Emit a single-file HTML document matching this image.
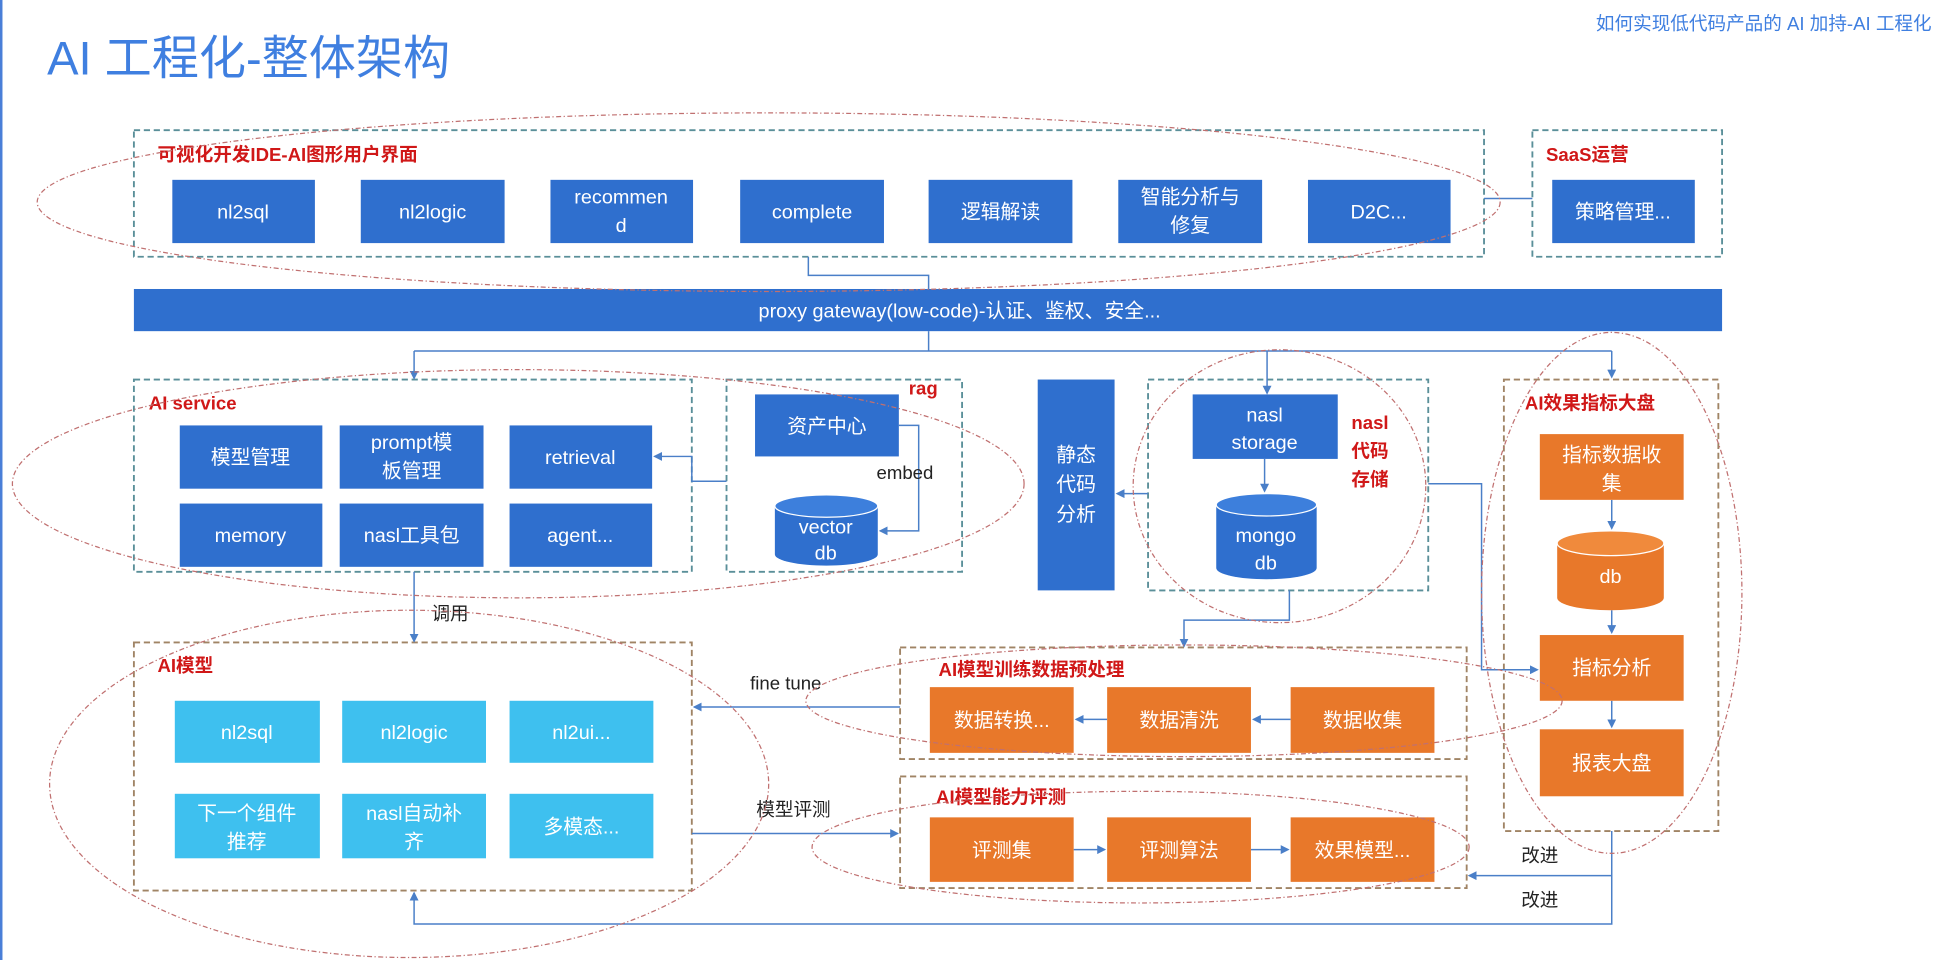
<!DOCTYPE html>
<html><head><meta charset="utf-8"><style>
html,body{margin:0;padding:0;background:#fff;}
svg{display:block;}
text{font-family:"Liberation Sans","Noto Sans CJK SC",sans-serif;}
</style></head><body>
<svg width="1944" height="960" viewBox="0 0 1568 774" preserveAspectRatio="none" xmlns="http://www.w3.org/2000/svg">
<defs>
<marker id="a" markerWidth="6" markerHeight="6" refX="5" refY="3" orient="auto"><path d="M0,0 L6,3 L0,6z" fill="#4a7fc8"/></marker>
</defs>
<rect width="1568" height="774" fill="#fff"/>
<line x1="1" y1="0" x2="1" y2="774" stroke="#4a7fd8" stroke-width="2"/>
<text x="38" y="60" font-size="38" fill="#3f7fe0">AI 工程化-整体架构</text>
<text x="1558" y="24" font-size="15" fill="#3f7fe0" text-anchor="end">如何实现低代码产品的 AI 加持-AI 工程化</text>

<g fill="none" stroke-width="1.5" stroke-dasharray="5,3">
<rect x="108" y="105" width="1089" height="102" stroke="#5a8f99"/>
<rect x="1236" y="105" width="153" height="102" stroke="#5a8f99"/>
<rect x="108" y="306" width="450" height="155" stroke="#5a8f99"/>
<rect x="586" y="306" width="190" height="155" stroke="#5a8f99"/>
<rect x="926" y="306" width="226" height="170" stroke="#5a8f99"/>
<rect x="1213" y="306" width="173" height="364" stroke="#a08465"/>
<rect x="108" y="518" width="450" height="200" stroke="#a08465"/>
<rect x="726" y="522" width="457" height="90" stroke="#a08465"/>
<rect x="726" y="626" width="457" height="90" stroke="#a08465"/>
</g>

<g fill="none" stroke="#4a7fc8" stroke-width="1.2">
<path d="M652,207 V222 H749 V233"/>
<path d="M749,267 V283"/>
<path d="M334,283 H1300"/>
<path d="M334,283 V305" marker-end="url(#a)"/>
<path d="M1022,283 V317" marker-end="url(#a)"/>
<path d="M1300,283 V304" marker-end="url(#a)"/>
<path d="M1197,160 H1236"/>
<path d="M725,343 H741 V428 H710" marker-end="url(#a)"/>
<path d="M586,388 H558 V368 H528" marker-end="url(#a)"/>
<path d="M926,398 H901" marker-end="url(#a)"/>
<path d="M1020,370 V396" marker-end="url(#a)"/>
<path d="M334,461 V517" marker-end="url(#a)"/>
<path d="M1040,476 V500 H955 V521" marker-end="url(#a)"/>
<path d="M1152,390 H1195 V540 H1240" marker-end="url(#a)"/>
<path d="M1300,403 V426" marker-end="url(#a)"/>
<path d="M1300,492 V510" marker-end="url(#a)"/>
<path d="M1300,565 V586" marker-end="url(#a)"/>
<path d="M726,570 H560" marker-end="url(#a)"/>
<path d="M558,672 H724" marker-end="url(#a)"/>
<path d="M1041,580 H1011" marker-end="url(#a)"/>
<path d="M893,580 H868" marker-end="url(#a)"/>
<path d="M866,685 H891" marker-end="url(#a)"/>
<path d="M1009,685 H1039" marker-end="url(#a)"/>
<path d="M1300,670 V745 H334 V720" marker-end="url(#a)"/>
<path d="M1300,706 H1185" marker-end="url(#a)"/>
</g>

<g fill="#2f6fce">
<rect x="108" y="233" width="1281" height="34"/>
<rect x="139" y="145" width="115" height="51"/>
<rect x="291" y="145" width="116" height="51"/>
<rect x="444" y="145" width="115" height="51"/>
<rect x="597" y="145" width="116" height="51"/>
<rect x="749" y="145" width="116" height="51"/>
<rect x="902" y="145" width="116" height="51"/>
<rect x="1055" y="145" width="115" height="51"/>
<rect x="1252" y="145" width="115" height="51"/>
<rect x="145" y="343" width="115" height="51"/>
<rect x="274" y="343" width="116" height="51"/>
<rect x="411" y="343" width="115" height="51"/>
<rect x="145" y="406" width="115" height="51"/>
<rect x="274" y="406" width="116" height="51"/>
<rect x="411" y="406" width="115" height="51"/>
<rect x="609" y="318" width="116" height="50"/>
<rect x="837" y="306" width="62" height="170"/>
<rect x="962" y="318" width="117" height="52"/>
<path d="M625,408 V447 A41.5,9 0 0 0 708,447 V408 A41.5,9 0 0 0 625,408z"/>
<path d="M981,407 V458 A40.5,9 0 0 0 1062,458 V407 A40.5,9 0 0 0 981,407z"/>
</g>
<ellipse cx="666.5" cy="408" rx="41.5" ry="9" fill="#3d7fdc" stroke="#fff"/>
<ellipse cx="1021.5" cy="407" rx="40.5" ry="9" fill="#3d7fdc" stroke="#fff"/>

<g fill="#3ec0ef">
<rect x="141" y="565" width="117" height="50"/>
<rect x="276" y="565" width="116" height="50"/>
<rect x="411" y="565" width="116" height="50"/>
<rect x="141" y="640" width="117" height="52"/>
<rect x="276" y="640" width="116" height="52"/>
<rect x="411" y="640" width="116" height="52"/>
</g>
<g fill="#e8782a">
<rect x="1242" y="350" width="116" height="53"/>
<rect x="1242" y="512" width="116" height="53"/>
<rect x="1242" y="588" width="116" height="54"/>
<path d="M1256,438 V482 A43,10 0 0 0 1342,482 V438 A43,10 0 0 0 1256,438z"/>
<rect x="750" y="554" width="116" height="53"/>
<rect x="893" y="554" width="116" height="53"/>
<rect x="1041" y="554" width="116" height="53"/>
<rect x="750" y="659" width="116" height="52"/>
<rect x="893" y="659" width="116" height="52"/>
<rect x="1041" y="659" width="116" height="52"/>
</g>
<ellipse cx="1299" cy="438" rx="43" ry="10" fill="#f08a3c" stroke="#fff"/>

<g font-size="16" fill="#fff" text-anchor="middle">
<text x="774" y="256">proxy gateway(low-code)-认证、鉴权、安全...</text>
<text x="196" y="176">nl2sql</text>
<text x="349" y="176">nl2logic</text>
<text x="501" y="164">recommen</text><text x="501" y="187">d</text>
<text x="655" y="176">complete</text>
<text x="807" y="176">逻辑解读</text>
<text x="960" y="164">智能分析与</text><text x="960" y="187">修复</text>
<text x="1112" y="176">D2C...</text>
<text x="1309" y="176">策略管理...</text>
<text x="202" y="374">模型管理</text>
<text x="332" y="362">prompt模</text><text x="332" y="385">板管理</text>
<text x="468" y="374">retrieval</text>
<text x="202" y="437">memory</text>
<text x="332" y="437">nasl工具包</text>
<text x="468" y="437">agent...</text>
<text x="667" y="349">资产中心</text>
<text x="666" y="430">vector</text><text x="666" y="451">db</text>
<text x="868" y="372">静态</text><text x="868" y="396">代码</text><text x="868" y="420">分析</text>
<text x="1020" y="340">nasl</text><text x="1020" y="362">storage</text>
<text x="1021" y="437">mongo</text><text x="1021" y="459">db</text>
<text x="1300" y="372">指标数据收</text><text x="1300" y="395">集</text>
<text x="1299" y="470">db</text>
<text x="1300" y="544">指标分析</text>
<text x="1300" y="621">报表大盘</text>
<text x="808" y="586">数据转换...</text>
<text x="951" y="586">数据清洗</text>
<text x="1099" y="586">数据收集</text>
<text x="808" y="691">评测集</text>
<text x="951" y="691">评测算法</text>
<text x="1099" y="691">效果模型...</text>
<text x="199" y="596">nl2sql</text>
<text x="334" y="596">nl2logic</text>
<text x="469" y="596">nl2ui...</text>
<text x="199" y="661">下一个组件</text><text x="199" y="684">推荐</text>
<text x="334" y="661">nasl自动补</text><text x="334" y="684">齐</text>
<text x="469" y="672">多模态...</text>
</g>

<g font-size="15" font-weight="bold" fill="#d01818">
<text x="127" y="130">可视化开发IDE-AI图形用户界面</text>
<text x="1247" y="130">SaaS运营</text>
<text x="120" y="330">AI service</text>
<text x="733" y="318">rag</text>
<text x="1090" y="346">nasl</text><text x="1090" y="369">代码</text><text x="1090" y="392">存储</text>
<text x="1230" y="330">AI效果指标大盘</text>
<text x="127" y="542">AI模型</text>
<text x="757" y="545">AI模型训练数据预处理</text>
<text x="755" y="648">AI模型能力评测</text>
</g>
<g font-size="15" fill="#222">
<text x="707" y="386">embed</text>
<text x="348" y="500">调用</text>
<text x="605" y="556">fine tune</text>
<text x="610" y="658">模型评测</text>
<text x="1227" y="695">改进</text>
<text x="1227" y="731">改进</text>
</g>

<g fill="none" stroke="#c07070" stroke-width="1" stroke-dasharray="4,2,1,2">
<ellipse cx="620" cy="163" rx="590" ry="72"/>
<ellipse cx="418" cy="390" rx="408" ry="92"/>
<ellipse cx="1032" cy="392" rx="118" ry="110"/>
<ellipse cx="1300" cy="478" rx="105" ry="210"/>
<ellipse cx="330" cy="632" rx="290" ry="140"/>
<ellipse cx="955" cy="565" rx="305" ry="45"/>
<ellipse cx="920" cy="683" rx="265" ry="45"/>
</g>
</svg>
</body></html>
